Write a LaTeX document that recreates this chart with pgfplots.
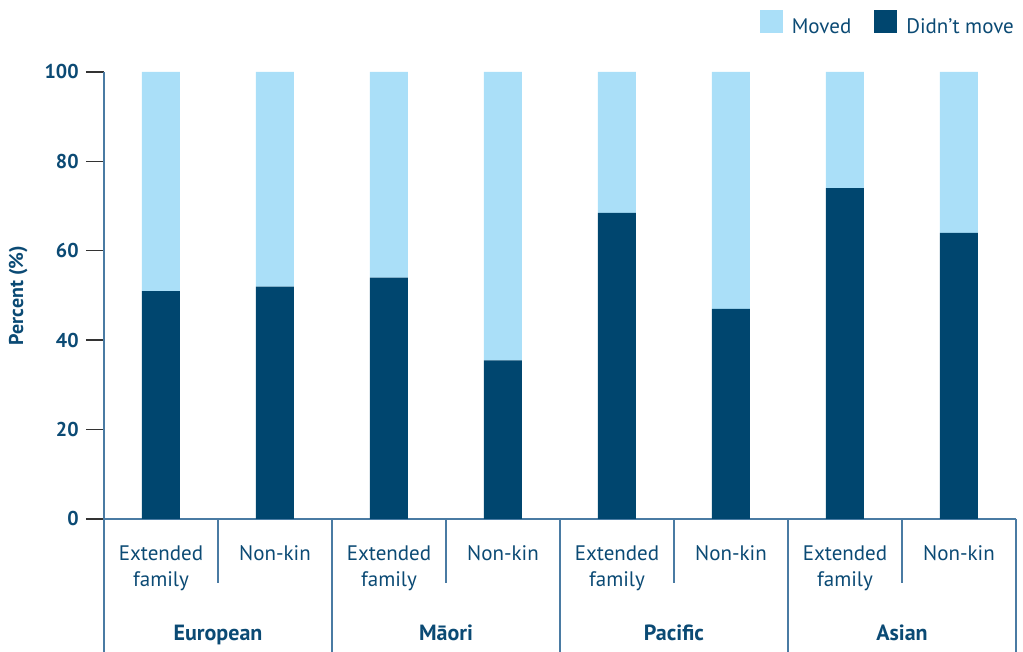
\documentclass[border=0pt]{standalone}
\usepackage{fontspec}
\setmainfont{PT Sans}
\usepackage{pgfplots}
\pgfplotsset{compat=1.18}
\definecolor{darkbar}{HTML}{00466F}
\definecolor{lightbar}{HTML}{AADFF8}
\definecolor{txt}{HTML}{0B4A74}
\definecolor{axisline}{HTML}{4A7BA3}

\pgfplotsset{
  sqlegend/.style={legend image code/.code={\fill[##1,draw=none] (0pt,-2.75pt) rectangle (11.5pt,8.75pt);}},
}

\begin{document}
\begin{tikzpicture}
\useasboundingbox (-52pt,-66.5pt) rectangle (459.5pt,259.5pt);
\begin{axis}[
    at={(0,0)}, anchor=south west,
    scale only axis,
    width=456pt, height=223.5pt,
    ybar stacked,
    bar width=19pt,
    xmin=-0.5, xmax=7.5,
    ymin=0, ymax=100,
    clip=false,
    axis x line*=bottom,
    axis y line*=left,
    axis line style={-, draw=axisline, line width=1pt},
    xtick={0,...,7},
    xticklabels={{Extended\\family},Non-kin,{Extended\\family},Non-kin,{Extended\\family},Non-kin,{Extended\\family},Non-kin},
    xticklabel style={align=center, text=txt, anchor=north, yshift=-10pt,
        font=\fontsize{10.5}{13}\selectfont},
    x tick style={draw=none},
    ytick={0,20,40,60,80,100},
    ytick align=outside,
    major tick length=9pt,
    y tick style={draw=black!80, line width=0.7pt},
    yticklabel style={font=\bfseries, text=txt, inner sep=0pt, xshift=-3.5pt},
    /pgf/number format/assume math mode=true,
    ylabel={Percent (\%)},
    ylabel style={font=\bfseries, text=txt, at={(axis description cs:-0.094,0.5)}, anchor=center},
    legend style={at={(axis description cs:1.0025,1.105)}, anchor=east, draw=none, fill=none,
        legend columns=2, font=\fontsize{10.5}{13}\selectfont\color{txt}, inner sep=0pt,
        /tikz/every odd column/.append style={column sep=2.5pt},
        /tikz/every even column/.append style={column sep=9.5pt}},
    reverse legend,
]
% Didn't move (bottom)
\addplot[fill=darkbar, draw=none, sqlegend] coordinates {
    (0,51) (1,52) (2,54) (3,35.5) (4,68.5) (5,47) (6,74) (7,64)
};
% Moved (top)
\addplot[fill=lightbar, draw=none, sqlegend] coordinates {
    (0,49) (1,48) (2,46) (3,64.5) (4,31.5) (5,53) (6,26) (7,36)
};
\legend{Didn't move, Moved}

% category dividers below the axis
\pgfplotsinvokeforeach{-0.5,1.5,3.5,5.5,7.5}{
    \draw[axisline, line width=1pt] (axis cs:#1,0) -- ([yshift=-66.5pt]axis cs:#1,0);
}
\pgfplotsinvokeforeach{0.5,2.5,4.5,6.5}{
    \draw[axisline, line width=0.8pt] (axis cs:#1,0) -- ([yshift=-32pt]axis cs:#1,0);
}

% group labels
\node[font=\fontsize{11}{13}\selectfont\bfseries, text=txt, anchor=base] at ([yshift=-61pt]axis cs:0.5,0) {European};
\node[font=\fontsize{11}{13}\selectfont\bfseries, text=txt, anchor=base] at ([yshift=-61pt]axis cs:2.5,0) {Māori};
\node[font=\fontsize{11}{13}\selectfont\bfseries, text=txt, anchor=base] at ([yshift=-61pt]axis cs:4.5,0) {Pacific};
\node[font=\fontsize{11}{13}\selectfont\bfseries, text=txt, anchor=base] at ([yshift=-61pt]axis cs:6.5,0) {Asian};
\end{axis}
\end{tikzpicture}
\end{document}
